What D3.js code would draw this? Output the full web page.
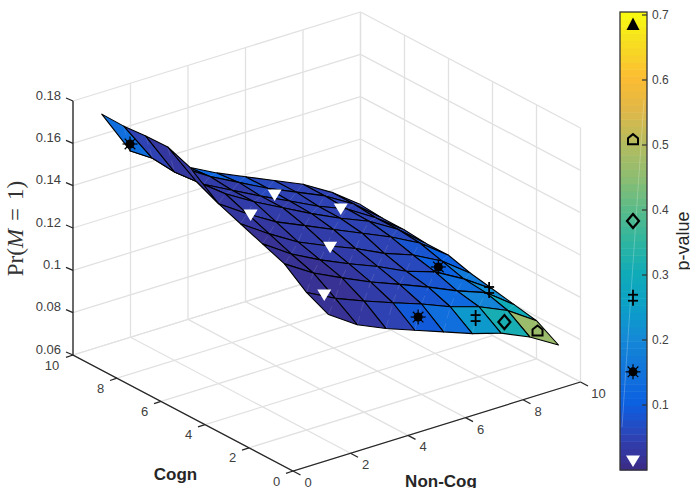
<!DOCTYPE html>
<html><head><meta charset="utf-8"><script src="https://cdnjs.cloudflare.com/ajax/libs/d3/7.8.5/d3.min.js"></script>
<style>html,body{margin:0;padding:0;background:#fff;overflow:hidden}svg{display:block}text{font-family:"Liberation Sans",Arial,sans-serif}</style></head>
<body><svg id="c" width="690" height="488"></svg>
<script>
const xGrid=[2,3,4,5,6,7,8,9,10];
const yGrid=[1,2,3,4,5,6,7,8,9,10];
// Pr(M=1) on the grid, row per Cogn value, column per Non-Cog value
const zRows=[
[.120,.111,.105,.100,.095,.090,.086,.080,.072],
[.125,.118,.1125,.1075,.1027,.0972,.093,.087,.078],
[.133,.1245,.118,.1118,.1065,.101,.095,.090,.080],
[.137,.128,.121,.115,.1095,.103,.0985,.091,.082],
[.141,.132,.124,.118,.1125,.106,.101,.094,.084],
[.145,.136,.128,.122,.116,.110,.104,.097,.087],
[.150,.140,.132,.125,.118,.1116,.106,.098,.087],
[.149,.139,.132,.125,.1185,.1118,.1063,.098,.088],
[.150,.1415,.133,.126,.119,.113,.107,.099,.088],
[.148,.140,.132,.125,.119,.113,.107,.099,.089]];
// Non-Cog = 1 column exists only for Cogn 6..10
const wingY=[6,7,8,9,10];
const wingZ=[.1665,.1705,.1702,.1694,.1696];
const wingP=[.025,.03,.05,.14];
// p-values per cell
const pRows=[
[.012,.03,.045,.09,.14,.24,.31,.47],
[.012,.02,.035,.055,.08,.13,.19,.30],
[.012,.02,.03,.045,.06,.085,.14,.22],
[.018,.025,.035,.035,.045,.065,.11,.17],
[.025,.03,.035,.04,.045,.055,.08,.11],
[.03,.035,.035,.04,.045,.055,.065,.08],
[.035,.035,.035,.04,.045,.045,.055,.06],
[.035,.035,.04,.06,.055,.05,.055,.055],
[.05,.07,.12,.08,.06,.055,.05,.045]];
const mapStops=["#3b2a85","#2f42b4","#0c5fe0","#1173dc","#1488d6","#0ba0c8","#10abb8","#2fb5a0","#5bbb88","#8fbd70","#b5bb5e","#e0b848","#fcbc33","#f7dc22","#f9fb0e"];
const xTicks=[0,2,4,6,8,10];
const yTicks=[0,2,4,6,8,10];
const zTicks=[.06,.08,.1,.12,.14,.16,.18];
const zTickLabels=["0.06","0.08","0.1","0.12","0.14","0.16","0.18"];
const pTicks=[.1,.2,.3,.4,.5,.6,.7];
const markers=[
 {k:"star",x:1.6,y:9.5,z:.1557},
 {k:"down",x:3.5,y:6.5,z:.1306},
 {k:"down",x:5.1,y:7.5,z:.1278},
 {k:"down",x:7.4,y:7.5,z:.1116},
 {k:"down",x:5.5,y:5.5,z:.1125},
 {k:"down",x:3,y:2.5,z:.1168},
 {k:"star",x:8.5,y:4.5,z:.096},
 {k:"star",x:5.5,y:1.5,z:.1014},
 {k:"cross",x:9.5,y:3.5,z:.0864},
 {k:"cross",x:7.5,y:1.5,z:.0925},
 {k:"diamond",x:8.5,y:1.5,z:.0864},
 {k:"penta",x:9.5,y:1.3,z:.0793}];
const legendMarkers=[{k:"up",p:.686},{k:"penta",p:.509},{k:"diamond",p:.383},{k:"cross",p:.265},{k:"star",p:.151},{k:"down",p:.014}];

const svg=d3.select("#c");
const X=d3.scaleLinear([0,10],[0,287.5]), XV=d3.scaleLinear([0,10],[0,-89]);
const Y=d3.scaleLinear([0,10],[0,-220]), YV=d3.scaleLinear([0,10],[0,-116]);
const Z=d3.scaleLinear([.06,.18],[0,-254]);
const proj=(x,y,z)=>[293+X(x)+Y(y),471+XV(x)+YV(y)+Z(z)];
const line=d3.line();
const pMax=.7046;
const cmap=d3.scaleLinear().domain(mapStops.map((c,i)=>i/(mapStops.length-1))).range(mapStops).interpolate(d3.interpolateRgb);
const col=p=>cmap((Math.min(63,Math.floor(p/pMax*64))+.5)/64);

// grid
const grid=svg.append("g").attr("stroke","#e1e1e1").attr("stroke-width",1.3).attr("fill","none");
const seg=(a,b)=>grid.append("path").attr("d",line([a,b]));
const z0=.06,z1=.18;
xTicks.forEach(v=>{seg(proj(v,0,z0),proj(v,10,z0));seg(proj(v,10,z0),proj(v,10,z1));});
yTicks.forEach(v=>{seg(proj(0,v,z0),proj(10,v,z0));seg(proj(10,v,z0),proj(10,v,z1));});
zTicks.forEach(v=>{seg(proj(0,10,v),proj(10,10,v));seg(proj(10,10,v),proj(10,0,v));});

// surface
const cells=[];
yGrid.slice(0,-1).forEach((yv,r)=>xGrid.slice(0,-1).forEach((xv,c)=>{
 cells.push({d:xv+yv,p:pRows[r][c],
  a:[xv,yv,zRows[r][c]],b:[xv+1,yv,zRows[r][c+1]],
  e:[xv+1,yv+1,zRows[r+1][c+1]],f:[xv,yv+1,zRows[r+1][c]]});
}));
wingY.slice(0,-1).forEach((yv,i)=>{
 const r=yGrid.indexOf(yv);
 cells.push({d:1+yv,p:wingP[i],a:[1,yv,wingZ[i]],b:[2,yv,zRows[r][0]],e:[2,yv+1,zRows[r+1][0]],f:[1,yv+1,wingZ[i+1]]});
});
cells.sort((p,q)=>q.d-p.d);
const surf=svg.append("g");
cells.forEach(c=>{
 const pts=[c.a,c.b,c.e,c.f].map(v=>proj(...v));
 surf.append("path").attr("d",line(pts)+"Z").attr("fill",col(c.p)).attr("stroke","#000").attr("stroke-width",1.1).attr("stroke-linejoin","round");
 surf.append("path").attr("d",line([pts[0],pts[2]])).attr("stroke","#fff").attr("stroke-opacity",.17).attr("stroke-width",.7).attr("stroke-dasharray","9 5").attr("fill","none");
});

// axes
const ax=svg.append("g").attr("stroke","#262626").attr("stroke-width",1.3).attr("fill","none");
ax.append("path").attr("d",line([proj(0,10,z1),proj(0,10,z0),proj(0,0,z0),proj(10,0,z0)]));
xTicks.forEach(v=>{const p=proj(v,0,z0);ax.append("path").attr("d",line([p,[p[0]+7.5,p[1]+4]]));});
yTicks.forEach(v=>{const p=proj(0,v,z0);ax.append("path").attr("d",line([p,[p[0]-7,p[1]+2.3]]));});
zTicks.forEach(v=>{const p=proj(0,10,v);ax.append("path").attr("d",line([p,[p[0]-7,p[1]-3]]));});
const tc="#404040";
const lab=(x,y,s,size,anchor)=>svg.append("text").attr("x",x).attr("y",y).attr("font-size",size).attr("fill",tc).attr("text-anchor",anchor).attr("dominant-baseline","central").text(s);
zTicks.forEach((v,i)=>{const p=proj(0,10,v);lab(p[0]-12,p[1]-6,zTickLabels[i],13,"end");});
xTicks.forEach(v=>{const p=proj(v,0,z0);lab(p[0]+(v==10?18:15),p[1]+11.5,v,13,"middle");});
yTicks.forEach(v=>{const p=proj(0,v,z0);lab(p[0]-(v==10?21:16.5),p[1]+10,v,13,"middle");});
svg.append("text").attr("x",175.5).attr("y",474).attr("text-anchor","middle").attr("dominant-baseline","central").attr("font-size",17).attr("font-weight","bold").attr("fill","#262626").text("Cogn");
svg.append("text").attr("x",441).attr("y",481).attr("text-anchor","middle").attr("dominant-baseline","central").attr("font-size",17).attr("font-weight","bold").attr("fill","#262626").text("Non-Cog");
const zt=svg.append("text").attr("transform","translate(23,228.5) rotate(-90)").attr("text-anchor","middle").attr("font-size",23).attr("fill","#333").style("font-family","'Liberation Serif',serif");
zt.append("tspan").text("Pr(");
zt.append("tspan").attr("font-style","italic").text("M");
zt.append("tspan").attr("dx",8).text("=");
zt.append("tspan").attr("dx",8).text("1)");

// colorbar
const P=d3.scaleLinear([0,.7],[470,15]);
const cb=svg.append("g");
const bands=d3.range(64);
cb.selectAll("rect").data(bands).join("rect").attr("x",620).attr("width",27)
 .attr("y",d=>P((d+1)/64*pMax)).attr("height",d=>P(d/64*pMax)-P((d+1)/64*pMax)+.5)
 .attr("fill",d=>cmap((d+.5)/64));
cb.append("path").attr("d",line([[644,100],[622,427]])).attr("stroke","#fff").attr("stroke-opacity",.3).attr("stroke-width",.8).attr("fill","none");
cb.append("rect").attr("x",620).attr("y",P(pMax)).attr("width",27).attr("height",470-P(pMax)).attr("fill","none").attr("stroke","#333").attr("stroke-width",1.3);
pTicks.forEach(v=>{
 cb.append("path").attr("d",line([[642,P(v)],[647,P(v)]])).attr("stroke","#333").attr("stroke-width",1.2);
 lab(652,P(v),d3.format(".1f")(v),12,"start");
});
svg.append("text").attr("transform","translate(688.5,241) rotate(-90)").attr("text-anchor","middle").attr("font-size",18).attr("fill","#262626").text("p-value");

// markers
function mark(k,x,y){
 const g=svg.append("g").attr("transform",`translate(${x},${y})`);
 if(k=="down") g.append("path").attr("d",line([[-7,-5.5],[7,-5.5],[0,6]])+"Z").attr("fill","#fff");
 if(k=="up") g.append("path").attr("d",line([[-6.5,6],[6.5,6],[0,-6.5]])+"Z").attr("fill","#000");
 if(k=="penta") g.append("path").attr("d",line([[-5,5],[5,5],[5,-1],[0,-5],[-5,-1]])+"Z").attr("fill","none").attr("stroke","#000").attr("stroke-width",2);
 if(k=="diamond") g.append("path").attr("d",line([[0,-7],[6,0],[0,7],[-6,0]])+"Z").attr("fill","none").attr("stroke","#000").attr("stroke-width",2.2);
 if(k=="cross"){
  [[[0,-8],[0,8]],[[-5,-3],[5,-3]],[[-5,3],[5,3]]].forEach(s=>g.append("path").attr("d",line(s)).attr("stroke","#000").attr("stroke-width",1.8));
 }
 if(k=="star"){
  g.append("circle").attr("r",4.5).attr("fill","#000");
  d3.range(8).forEach(i=>{const a=i*Math.PI/4;g.append("path").attr("d",line([[0,0],[7.5*Math.cos(a),7.5*Math.sin(a)]])).attr("stroke","#000").attr("stroke-width",1.2);});
 }
}
markers.forEach(m=>{const p=proj(m.x,m.y,m.z);mark(m.k,p[0],p[1]);});
legendMarkers.forEach(m=>mark(m.k,633,P(m.p)));
</script></body></html>
